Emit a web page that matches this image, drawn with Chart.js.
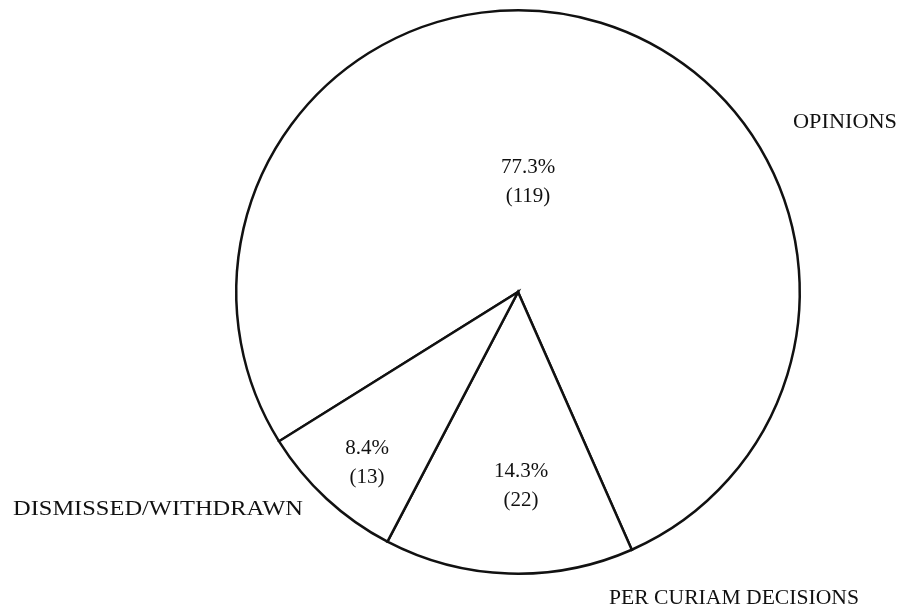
<!DOCTYPE html>
<html>
<head>
<meta charset="utf-8">
<script src="https://cdn.jsdelivr.net/npm/chart.js@4.4.1/dist/chart.umd.min.js"></script>
<style>
  html, body { margin: 0; padding: 0; background: #ffffff; }
  #wrap { width: 899px; height: 615px; position: relative; }
</style>
</head>
<body>
<div id="wrap"><canvas id="chartCasos" width="899" height="615"></canvas></div>
<script>
var categorias = ['OPINIONS', 'PER CURIAM DECISIONS', 'DISMISSED/WITHDRAWN'];
var valores = [119, 22, 13];
var percentuais = ['77.3%', '14.3%', '8.4%'];

// label positions (text layout only)
var rotulosInternos = [
    { x: 528, y: 167 },
    { x: 521, y: 471 },
    { x: 367, y: 448 }
];
var rotulosExternos = [
    { x: 845, y: 122, largura: 104 },
    { x: 734, y: 598, largura: 250 },
    { x: 158, y: 509, largura: 290 }
];

var fonte = '"Liberation Serif", "DejaVu Serif", serif';

function $each(arr, fn) {
    for (var i = 0; i < arr.length; i++) fn(i);
}

var pluginRotulos = {
    id: 'rotulos',
    afterDatasetsDraw: function (chart) {
        var ctx = chart.ctx;
        ctx.save();
        ctx.fillStyle = '#111111';
        ctx.font = '21px ' + fonte;
        ctx.textAlign = 'center';
        ctx.textBaseline = 'middle';
        $each(valores, function (i) {
            var p = rotulosInternos[i];
            ctx.fillText(percentuais[i], p.x, p.y);
            ctx.fillText('(' + valores[i] + ')', p.x, p.y + 29);
        });
        ctx.font = '21px ' + fonte;
        $each(categorias, function (i) {
            var p = rotulosExternos[i];
            var w = ctx.measureText(categorias[i]).width;
            var sx = p.largura / w;
            ctx.save();
            ctx.translate(p.x, p.y);
            ctx.scale(sx, 1);
            ctx.fillText(categorias[i], 0, 0);
            ctx.restore();
        });
        ctx.restore();
    }
};

function renderPieChart(chartId, labels, data) {
    var ctx = document.getElementById(chartId);
    return new Chart(ctx, {
        type: 'pie',
        data: {
            labels: labels,
            datasets: [{
                data: data,
                backgroundColor: '#ffffff',
                borderColor: '#111111',
                borderWidth: 2.5,
                borderJoinStyle: 'miter'
            }]
        },
        options: {
            responsive: false,
            animation: false,
            rotation: 238,
            layout: { padding: { top: 9, bottom: 40, left: 235, right: 98 } },
            plugins: {
                legend: { display: false },
                tooltip: { enabled: false }
            }
        },
        plugins: [pluginRotulos]
    });
}

renderPieChart('chartCasos', categorias, valores);
</script>
</body>
</html>
